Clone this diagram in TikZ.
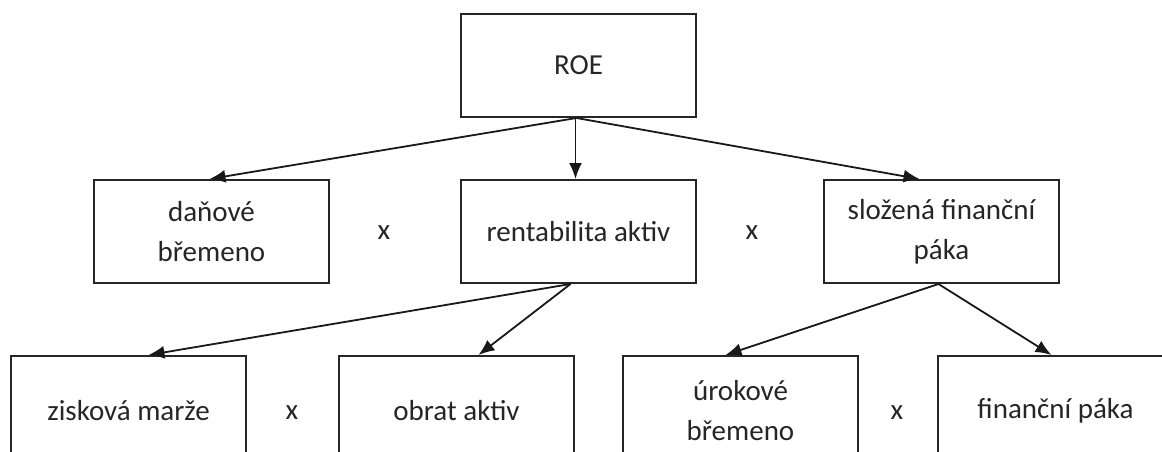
\documentclass[tikz,border=0pt]{standalone}
\usepackage{fontspec}
\setmainfont{Carlito}
\usetikzlibrary{arrows.meta}
\begin{document}
\begin{tikzpicture}[x=1pt,y=-1pt,
  box/.style={draw=black!85, line width=2pt, rectangle, minimum width=235pt, minimum height=103pt, inner sep=0pt, align=center, text=black!85, font=\fontsize{29}{40}\selectfont, anchor=north west},
  lowbox/.style={box, minimum height=110pt},
  times/.style={text=black!85, font=\fontsize{29}{34}\selectfont},
  conn/.style={draw=black!90, line width=1.8pt, -{Latex[length=16pt,width=13pt]}}]
\useasboundingbox (0,0) rectangle (1162,452);
\clip (0,0) rectangle (1162,452);
\fill[white] (0,0) rectangle (1162,452);
% top
\node[box] (roe) at (460,13) {ROE};
% middle row
\node[box] (dan) at (93,179) {daňové\\břemeno};
\node[box] (ren) at (460,179) {rentabilita aktiv};
\node[box] (slo) at (823,179) {složená finanční\\páka};
\node[times] (x1) at (384,233) {x};
\node[times] (x2) at (752,233) {x};
% bottom row
\node[lowbox] (zis) at (10,355) {zisková marže};
\node[lowbox] (obr) at (338,355) {obrat aktiv};
\node[lowbox] (uro) at (622,355) {úrokové\\břemeno};
\node[lowbox] (fin) at (937,355) {finanční páka};
\node[times] (x3) at (292,413) {x};
\node[times] (x4) at (897,413) {x};
% connectors
\draw[conn] ([xshift=-2pt]roe.south) -- ([xshift=-2pt]dan.north);
\draw[conn] ([xshift=-3pt]roe.south) -- ([xshift=-3pt]ren.north);
\draw[conn] ([xshift=-2pt]roe.south) -- ([xshift=-22pt]slo.north);
\draw[conn] ([xshift=-8pt]ren.south) -- ([xshift=20pt]zis.north);
\draw[conn] ([xshift=-8pt]ren.south) -- ([xshift=22pt]obr.north);
\draw[conn] ([xshift=-3pt]slo.south) -- ([xshift=-15pt]uro.north);
\draw[conn] ([xshift=-3pt]slo.south) -- ([xshift=-4pt]fin.north);
\end{tikzpicture}
\end{document}
